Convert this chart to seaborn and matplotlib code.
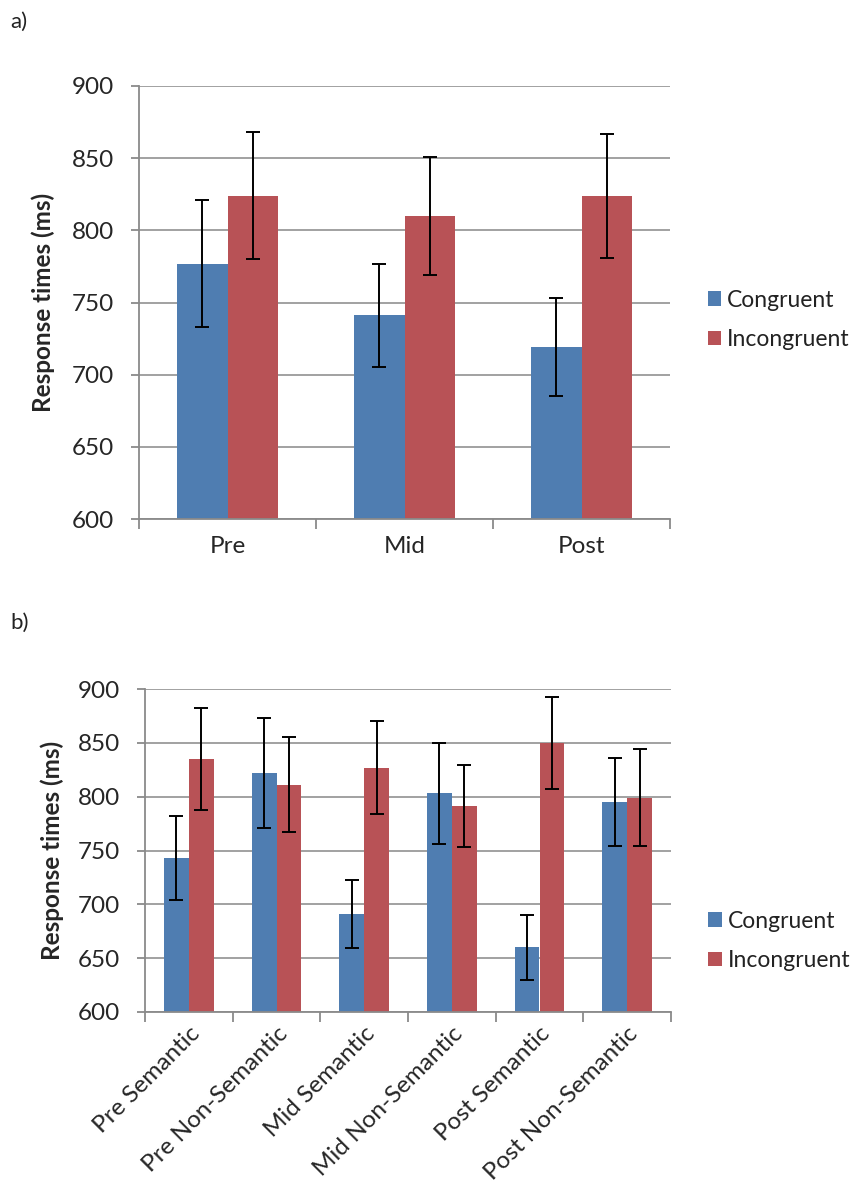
import pandas as pd
import matplotlib
matplotlib.use("Agg")
import matplotlib.pyplot as plt
import seaborn as sns

# Data
phases = ["Pre", "Mid", "Post"]
cong_a = [777, 741, 719]
incong_a = [824, 810, 824]
cong_a_err = [44, 36, 34]
incong_a_err = [44, 41, 43]

tasks = ["Pre Semantic", "Pre Non-Semantic", "Mid Semantic",
         "Mid Non-Semantic", "Post Semantic", "Post Non-Semantic"]
cong_b = [743, 822, 691, 803, 660, 795]
incong_b = [835, 811, 827, 791, 850, 799]
cong_b_err = [39, 51, 32, 47, 30, 41]
incong_b_err = [47, 44, 43, 38, 43, 45]

conditions = ["Congruent", "Incongruent"]
colors = ["#4F7DB1", "#B85256"]

sns.set_style("white")
plt.rcParams["font.family"] = ["Lato", "DejaVu Sans"]
plt.rcParams["text.color"] = "#222222"

fig = plt.figure(figsize=(8.58, 11.85), dpi=100)
W, H = 858, 1185
ax_a = fig.add_axes([139 / W, 1 - 519 / H, 531 / W, 433 / H])
ax_b = fig.add_axes([145 / W, 1 - 1012 / H, 526 / W, 323 / H])

FS = 17.5


def draw(ax, cats, cong, incong, cerr, ierr, legend_x, legend_y, ylabpad):
    df = pd.DataFrame({
        "cat": cats * 2,
        "rt": cong + incong,
        "cond": ["Congruent"] * len(cats) + ["Incongruent"] * len(cats),
    })
    sns.barplot(data=df, x="cat", y="rt", hue="cond", hue_order=conditions,
                palette=colors, width=0.57, errorbar=None, saturation=1,
                linewidth=0, ax=ax)
    for cont, errs in zip(ax.containers, [cerr, ierr]):
        xs = [b.get_x() + b.get_width() / 2 for b in cont]
        ys = [b.get_height() for b in cont]
        ax.errorbar(xs, ys, yerr=errs, fmt="none", ecolor="black",
                    elinewidth=1.4, capsize=5, capthick=1.4, zorder=5)
    ax.set_ylim(600, 900)
    ax.set_yticks(range(600, 901, 50))
    ax.set_xlim(-0.5, len(cats) - 0.5)
    ax.yaxis.grid(True, color="#9a9a9a", linewidth=1.3)
    ax.set_axisbelow(True)
    for s in ["top", "right"]:
        ax.spines[s].set_visible(False)
    for s in ["left", "bottom"]:
        ax.spines[s].set_color("#8a8a8a")
        ax.spines[s].set_linewidth(1.3)
    ax.tick_params(axis="y", which="major", length=6, color="#8a8a8a",
                   width=1.3, labelsize=FS, left=True, pad=12)
    ax.tick_params(axis="x", which="major", length=0, labelsize=FS, pad=12)
    ax.set_xticks([i - 0.5 for i in range(len(cats) + 1)], minor=True)
    ax.tick_params(axis="x", which="minor", length=7, color="#8a8a8a",
                   width=1.3, bottom=True)
    ax.set_xlabel("")
    ax.set_ylabel("Response times (ms)", fontsize=FS, fontweight="bold",
                  labelpad=ylabpad)
    sns.move_legend(ax, "center left", bbox_to_anchor=(legend_x, legend_y),
                    title=None, frameon=False, fontsize=16.5,
                    handlelength=0.6, handleheight=0.6, handletextpad=0.25,
                    labelspacing=0.8, borderaxespad=0.2)


draw(ax_a, phases, cong_a, incong_a, cong_a_err, incong_a_err, 1.045, 0.46, 12)
draw(ax_b, tasks, cong_b, incong_b, cong_b_err, incong_b_err, 1.045, 0.22, 10)

for lab in ax_b.get_xticklabels():
    lab.set_rotation(45)
    lab.set_ha("right")
    lab.set_rotation_mode("anchor")
ax_b.tick_params(axis="x", which="major", pad=8)

fig.text(10 / W, 1 - 22 / H, "a)", fontsize=16, va="center")
fig.text(10 / W, 1 - 623 / H, "b)", fontsize=16, va="center")

fig.savefig("out.png", dpi=100)
